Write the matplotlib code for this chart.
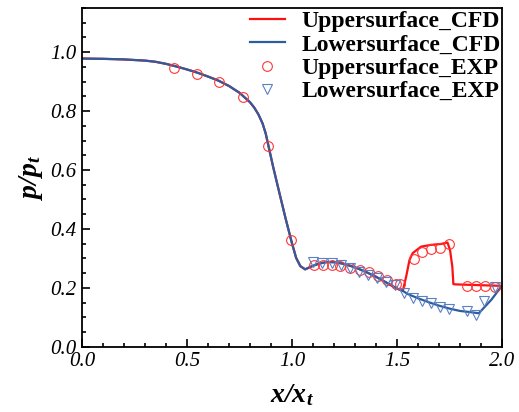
import matplotlib
matplotlib.use("Agg")
import matplotlib.pyplot as plt
from matplotlib.ticker import MultipleLocator

# shared CFD curve (upper and lower surfaces coincide up to x/xt ~ 1.53)
common_x = [0.0, 0.1, 0.2, 0.3, 0.35, 0.4, 0.45, 0.5, 0.55, 0.6, 0.65, 0.7, 0.75, 0.8,
            0.82, 0.84, 0.86, 0.875, 0.89, 0.91, 0.94, 0.97, 1.0, 1.02, 1.04, 1.063, 1.09,
            1.13, 1.17, 1.21, 1.25, 1.3, 1.35, 1.4, 1.45, 1.5, 1.528]
common_p = [0.978, 0.977, 0.975, 0.971, 0.967, 0.960, 0.951, 0.941, 0.930, 0.917, 0.903,
            0.885, 0.862, 0.830, 0.812, 0.789, 0.758, 0.724, 0.676, 0.612, 0.523, 0.435,
            0.352, 0.302, 0.274, 0.263, 0.272, 0.283, 0.288, 0.287, 0.281, 0.270, 0.255,
            0.238, 0.218, 0.198, 0.190]

upper_tail_x = [1.544, 1.56, 1.575, 1.615, 1.662, 1.709, 1.741, 1.753, 1.764, 1.769, 1.78, 2.0]
upper_tail_p = [0.238, 0.295, 0.318, 0.340, 0.346, 0.349, 0.354, 0.329, 0.272, 0.213, 0.212, 0.207]

lower_tail_x = [1.55, 1.6, 1.65, 1.7, 1.75, 1.8, 1.85, 1.89, 1.95, 2.0]
lower_tail_p = [0.180, 0.165, 0.152, 0.140, 0.130, 0.122, 0.118, 0.114, 0.160, 0.207]

upper_exp_x = [0.438, 0.547, 0.654, 0.765, 0.886, 0.995, 1.105, 1.146, 1.189, 1.231, 1.276,
               1.323, 1.366, 1.410, 1.451, 1.494, 1.517, 1.580, 1.619, 1.662, 1.706, 1.749,
               1.835, 1.879, 1.922, 1.965]
upper_exp_p = [0.945, 0.925, 0.897, 0.849, 0.682, 0.362, 0.278, 0.278, 0.278, 0.274, 0.267,
               0.261, 0.253, 0.241, 0.227, 0.214, 0.214, 0.297, 0.323, 0.332, 0.334, 0.349,
               0.208, 0.208, 0.208, 0.202]

lower_exp_x = [1.102, 1.145, 1.189, 1.233, 1.276, 1.320, 1.362, 1.406, 1.449, 1.491, 1.536,
               1.575, 1.618, 1.662, 1.704, 1.749, 1.835, 1.878, 1.917, 1.966]
lower_exp_p = [0.287, 0.284, 0.284, 0.278, 0.267, 0.255, 0.244, 0.235, 0.221, 0.210, 0.182,
               0.165, 0.157, 0.148, 0.137, 0.128, 0.121, 0.108, 0.157, 0.202]

plt.rcParams['font.family'] = ['Liberation Serif', 'DejaVu Serif']
plt.rcParams['mathtext.fontset'] = 'custom'
plt.rcParams['mathtext.it'] = 'Liberation Serif:italic'
plt.rcParams['mathtext.bf'] = 'Liberation Serif:bold'
plt.rcParams['mathtext.bfit'] = 'Liberation Serif:italic:bold'
plt.rcParams['mathtext.rm'] = 'Liberation Serif'

red = '#ff1010'
blue = '#2d5c9f'

fig = plt.figure(figsize=(5.19, 4.12), dpi=100)
ax = fig.add_axes([0.158, 0.158, 0.809, 0.823])

ax.plot(common_x + upper_tail_x, common_p + upper_tail_p, color=red, lw=1.6,
        label='Uppersurface_CFD')
ax.plot(common_x + lower_tail_x, common_p + lower_tail_p, color=blue, lw=1.6,
        label='Lowersurface_CFD')
ax.plot(upper_exp_x, upper_exp_p, ls='none', marker='o', ms=7, mfc='none',
        mec='#ff3535', mew=0.8, label='Uppersurface_EXP')
ax.plot(lower_exp_x, lower_exp_p, ls='none', marker='v', ms=7, mfc='none',
        mec='#5a80c4', mew=0.8, label='Lowersurface_EXP')

ax.set_xlim(0, 2.0)
ax.set_ylim(0, 1.15)
ax.xaxis.set_major_locator(MultipleLocator(0.5))
ax.xaxis.set_minor_locator(MultipleLocator(0.1))
ax.yaxis.set_major_locator(MultipleLocator(0.2))
ax.yaxis.set_minor_locator(MultipleLocator(0.05))
ax.tick_params(which='both', direction='in', top=False, right=False, width=1.2)
ax.tick_params(which='major', length=6, labelsize=15, pad=4)
ax.tick_params(which='minor', length=3)
for lab in ax.get_xticklabels() + ax.get_yticklabels():
    lab.set_fontstyle('italic')
for sp in ax.spines.values():
    sp.set_linewidth(1.3)

ax.set_xlabel(r'$\mathbfit{x/x_t}$', fontsize=20, labelpad=8)
ax.set_ylabel(r'$\mathbfit{p/p_t}$', fontsize=20, labelpad=4)

leg = ax.legend(loc='upper right', frameon=False, prop={'weight': 'bold', 'size': 17},
                labelspacing=0.08, handlelength=1.5, handletextpad=0.7,
                borderaxespad=0.0, bbox_to_anchor=(1.02, 1.02))

fig.savefig('out.png', dpi=100)
